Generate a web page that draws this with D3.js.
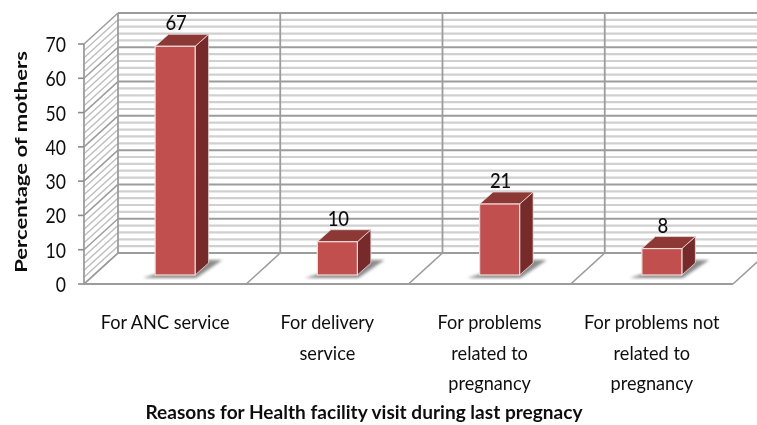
<!DOCTYPE html>
<html><head><meta charset="utf-8">
<script src="https://cdn.jsdelivr.net/npm/d3@7"></script>
<style>html,body{margin:0;background:#fff}svg{display:block}text{font-family:Lato,"Open Sans",sans-serif;fill:#111}</style>
</head><body><svg id="c" width="757" height="425"></svg>
<script>
const categories = [["For ANC service"],["For delivery","service"],["For problems","related to","pregnancy"],["For problems not","related to","pregnancy"]];
const values = [67,10,21,8];
const majorTicks = [0,10,20,30,40,50,60,70];
const minorTicks = [2,4,6,8,12,14,16,18,22,24,26,28,32,34,36,38,42,44,46,48,52,54,56,58,62,64,66,68];
const yTitle = "Percentage of mothers";
const xTitle = "Reasons for Health facility visit during last pregnacy";

const svg = d3.select("#c");
const y = d3.scaleLinear().domain([0,70]).range([284,44]);
const x = d3.scaleBand().domain(d3.range(categories.length)).range([84,733]).padding(0);
const DX = 34, DY = -31;
const barW = 40, barDX = 13.5, barDY = -12, barIn = 9;
const path = d3.line();
const defs = svg.append("defs");
defs.append("filter").attr("id","soft").append("feGaussianBlur").attr("stdDeviation",0.5);
defs.append("filter").attr("id","shadowBlur").attr("x","-30%").attr("width","160%").append("feGaussianBlur").attr("stdDeviation",1.6);
const squeeze = (sel,f)=>sel.each(function(){
  this.setAttribute("textLength",this.getComputedTextLength()*f);
  this.setAttribute("lengthAdjust","spacingAndGlyphs");
});

const g = svg.append("g").attr("filter","url(#soft)");
const wall = g.append("g").attr("fill","none");
wall.selectAll(".minorB").data(minorTicks).join("line")
  .attr("x1",x.range()[0]+DX).attr("x2",757).attr("y1",d=>y(d)+DY).attr("y2",d=>y(d)+DY)
  .attr("stroke","#d0d0d0").attr("stroke-width",2.2);
wall.selectAll(".minorS").data(minorTicks).join("line")
  .attr("x1",x.range()[0]).attr("x2",x.range()[0]+DX).attr("y1",d=>y(d)).attr("y2",d=>y(d)+DY)
  .attr("stroke","#bdbdbd").attr("stroke-width",1.4);
wall.selectAll(".majorB").data(majorTicks).join("line")
  .attr("x1",x.range()[0]+DX).attr("x2",757).attr("y1",d=>y(d)+DY).attr("y2",d=>y(d)+DY)
  .attr("stroke","#9c9c9c").attr("stroke-width",2);
wall.selectAll(".majorS").data(majorTicks).join("line")
  .attr("x1",x.range()[0]).attr("x2",x.range()[0]+DX).attr("y1",d=>y(d)).attr("y2",d=>y(d)+DY)
  .attr("stroke","#9c9c9c").attr("stroke-width",1.5);
const seps = d3.range(categories.length+1).map(i=> i<categories.length ? x(i) : x.range()[1]);
wall.selectAll(".vert").data(seps.slice(0,4)).join("line")
  .attr("x1",d=>d+DX).attr("x2",d=>d+DX).attr("y1",y(70)+DY).attr("y2",y(0)+DY)
  .attr("stroke","#9c9c9c").attr("stroke-width",1.8);
wall.selectAll(".floor").data(seps).join("line")
  .attr("x1",d=>d).attr("x2",d=>d+DX).attr("y1",y(0)).attr("y2",y(0)+DY)
  .attr("stroke","#9c9c9c").attr("stroke-width",1.6);
wall.append("line").attr("x1",x.range()[0]).attr("x2",x.range()[1]).attr("y1",y(0)).attr("y2",y(0)).attr("stroke","#9c9c9c").attr("stroke-width",2.2);
wall.append("line").attr("x1",x.range()[0]).attr("x2",x.range()[0]).attr("y1",y(0)).attr("y2",y(70)).attr("stroke","#9c9c9c").attr("stroke-width",1.8);
wall.selectAll(".tick").data(majorTicks).join("line")
  .attr("x1",x.range()[0]-6).attr("x2",x.range()[0]).attr("y1",d=>y(d)).attr("y2",d=>y(d))
  .attr("stroke","#8c8c8c").attr("stroke-width",1.6);

const bars = g.selectAll(".bar").data(values).join("g");
bars.each(function(v,i){
  const b = d3.select(this);
  const x0 = x(i)+(x.bandwidth()-barW)/2+10, x1 = x0+barW;
  const yb = y(0)-barIn, yt = y(v)-barIn+1;
  b.append("path").attr("d",path([[x0-12,yb+3],[x1+1,yb+3],[x1+27,yb-15],[x1+5,yb-15]]))
    .attr("fill","#777").attr("opacity",.85).attr("filter","url(#shadowBlur)");
  b.append("path").attr("d",path([[x1,yt],[x1+barDX,yt+barDY],[x1+barDX,yb+barDY],[x1,yb]])+"Z")
    .attr("fill","#772c2a").attr("stroke","#eadada").attr("stroke-width",.8);
  b.append("path").attr("d",path([[x0,yt],[x1,yt],[x1+barDX,yt+barDY],[x0+barDX,yt+barDY]])+"Z")
    .attr("fill","#8c3836").attr("stroke","#eadada").attr("stroke-width",.8);
  b.append("rect").attr("x",x0).attr("y",yt).attr("width",barW).attr("height",yb-yt)
    .attr("fill","#c0504d").attr("stroke","#f0dcdc").attr("stroke-width",1.2);
  b.append("text").attr("x",x0+21).attr("y",yt+barDY-4).attr("text-anchor","middle")
    .attr("font-size",21).attr("font-weight",500).text(v).call(squeeze,.88);
});

g.selectAll(".yl").data(majorTicks).join("text")
  .attr("x",66).attr("y",d=>y(d)+8).attr("text-anchor","end").attr("font-size",22).text(d=>d).call(squeeze,.8);
categories.forEach((lines,i)=>{
  const cx = x(i)+x.bandwidth()/2;
  lines.forEach((t,j)=>g.append("text").attr("x",cx).attr("y",329+j*30.5).attr("text-anchor","middle")
    .attr("font-size",19).text(t).call(squeeze,.955));
});
g.append("text").attr("transform","translate(27,162) rotate(-90)").attr("text-anchor","middle")
  .attr("font-size",17.5).attr("font-weight",700).text(yTitle).call(squeeze,1.26);
g.append("text").attr("x",364).attr("y",419).attr("text-anchor","middle")
  .attr("font-size",18).attr("font-weight",700).text(xTitle).call(squeeze,1.06);
</script></body></html>
